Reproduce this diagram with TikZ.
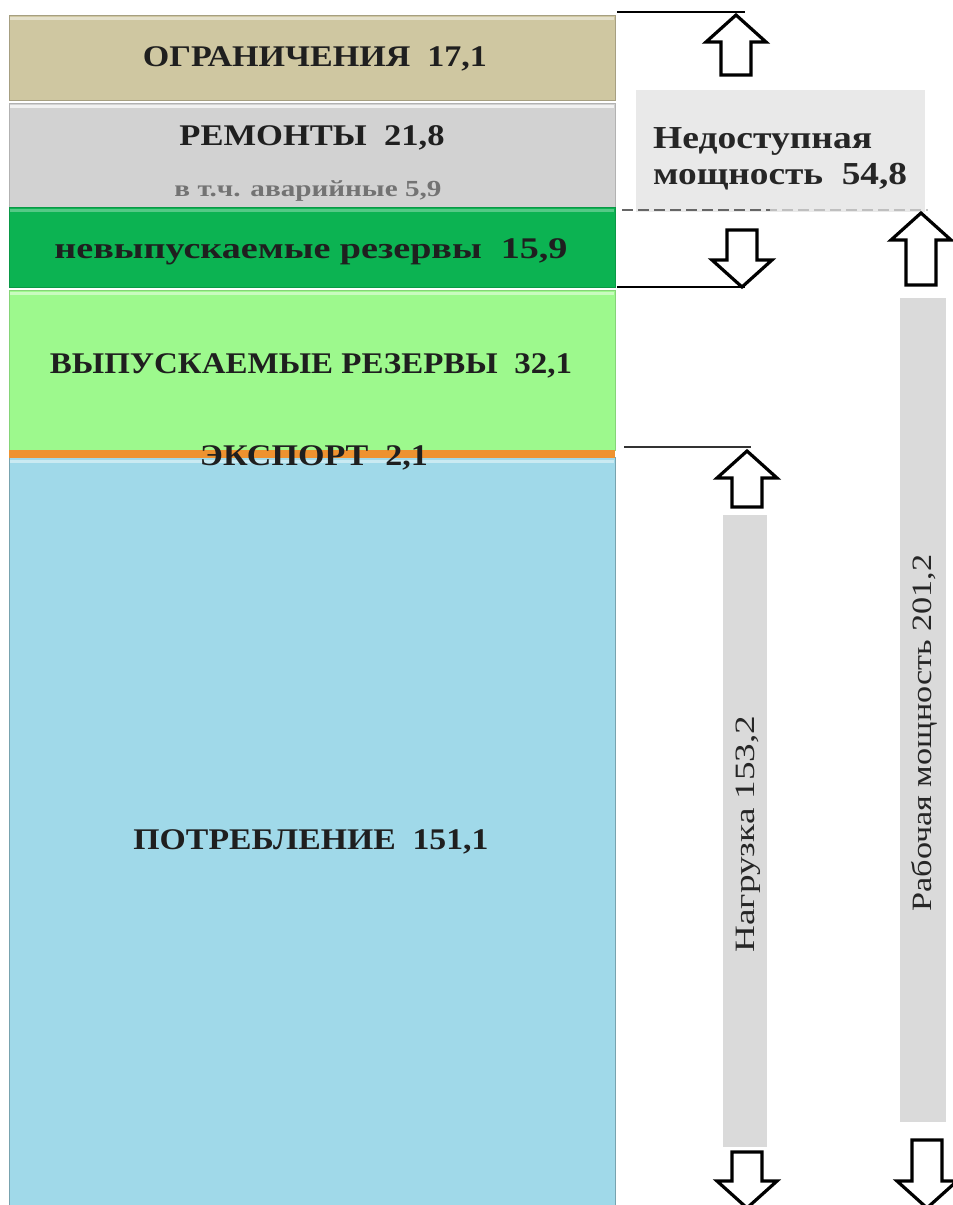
\documentclass[tikz,border=0pt]{standalone}
\usepackage{fontspec}
\setmainfont{Liberation Serif}
\usepackage{graphicx}
\definecolor{limtan}{HTML}{CFC7A1}
\definecolor{repgray}{HTML}{D2D2D2}
\definecolor{resgreen}{HTML}{0CB352}
\definecolor{relgreen}{HTML}{9DF98D}
\definecolor{exporange}{HTML}{EE9230}
\definecolor{consblue}{HTML}{A0D9E9}
\definecolor{panelgray}{HTML}{E9E9E9}
\definecolor{stripgray}{HTML}{DADADA}
\newcommand\fitw[2]{\resizebox{#1pt}{\height}{#2}}
% hollow block arrows: tip x, tip y, length
\newcommand\blkup[3]{\draw[blockarrow] (#1,#2) -- (#1+30,#2+27) -- (#1+15,#2+27) -- (#1+15,#2+#3) -- (#1-15,#2+#3) -- (#1-15,#2+27) -- (#1-30,#2+27) -- cycle;}
\newcommand\blkdown[3]{\draw[blockarrow] (#1,#2) -- (#1+30,#2-27) -- (#1+15,#2-27) -- (#1+15,#2-#3) -- (#1-15,#2-#3) -- (#1-15,#2-27) -- (#1-30,#2-27) -- cycle;}
\begin{document}
\begin{tikzpicture}[x=1pt,y=-1pt,
  seg/.style={anchor=north west, minimum width=606pt, inner sep=0pt, outer sep=0pt},
  barlabel/.style={font=\bfseries\fontsize{30}{32}\selectfont, text=black!88, inner sep=0pt},
  blockarrow/.style={draw=black, line width=3.2pt, fill=white, line join=miter},
  bracket/.style={draw=black, line width=2.6pt},
  strip/.style={fill=stripgray, draw=none, anchor=north west, inner sep=0pt},
  sidetext/.style={font=\fontsize{28}{30}\selectfont, text=black!85, inner sep=0pt, rotate=90}]
\useasboundingbox (0,0) rectangle (953,1205);
\fill[white] (0,0) rectangle (953,1205);

% stacked bar segments
\node[seg, fill=limtan, draw=limtan!80!black, minimum height=85pt] (lim) at (9,15) {};
\node[seg, fill=repgray, draw=repgray!85!black, minimum height=104pt] (rep) at (9,103) {};
\node[seg, fill=resgreen, draw=resgreen!85!black, minimum height=80pt] (nres) at (9,207) {};
\node[seg, fill=relgreen, draw=relgreen!85!black, minimum height=160pt] (rres) at (9,290) {};
\node[seg, fill=consblue, draw=consblue!75!black, minimum height=750pt] (cons) at (9,457) {};
\node[seg, fill=exporange, minimum height=8pt] (exp) at (9,450) {};
% light top edges of the segments
\draw[white, opacity=0.45, line width=3pt] (10,18) -- (614,18);
\draw[white, opacity=0.7, line width=3pt] (10,106) -- (614,106);
\draw[white, opacity=0.3, line width=3pt] (10,210) -- (614,210);
\draw[white, opacity=0.45, line width=3pt] (10,293) -- (614,293);
\draw[white, opacity=0.45, line width=3pt] (10,461) -- (614,461);

% segment labels
\node[barlabel] (limt) at (315,59) {\fitw{344}{ОГРАНИЧЕНИЯ\ \ 17,1}};
\node[barlabel] (rept) at (312,138) {\fitw{265}{РЕМОНТЫ\ \ 21,8}};
\node[font=\bfseries\fontsize{23}{25}\selectfont, text=black!55, inner sep=0pt] (avt) at (308,191) {\fitw{267}{в т.ч. аварийные 5,9}};
\node[barlabel] (nrest) at (311,252) {\fitw{513}{невыпускаемые резервы\ \ 15,9}};
\node[barlabel] (rrest) at (311,366) {\fitw{522}{ВЫПУСКАЕМЫЕ РЕЗЕРВЫ\ \ 32,1}};
\node[barlabel] (expt) at (314,458) {\fitw{228}{ЭКСПОРТ\ \ 2,1}};
\node[barlabel] (const) at (311,842) {\fitw{355}{ПОТРЕБЛЕНИЕ\ \ 151,1}};

% bracket lines at the bar edge
\coordinate (ta) at (617,12);  \coordinate (tb) at (745,12);
\coordinate (ba) at (617,287); \coordinate (bb) at (745,287);
\coordinate (ea) at (624,447); \coordinate (eb) at (751,447);
\draw[bracket] (ta) -- (tb);
\draw[bracket] (ba) -- (bb);
\draw[draw=black!80, line width=2pt] (ea) -- (eb);

% unavailable capacity panel
\node[fill=panelgray, anchor=north west, minimum width=289pt, minimum height=122pt, inner sep=0pt] (unav) at (636,90) {};
\node[font=\bfseries\fontsize{32}{34}\selectfont, text=black!85, anchor=base west, inner sep=0pt] (unav1) at (653,148) {\fitw{219}{Недоступная}};
\node[font=\bfseries\fontsize{32}{34}\selectfont, text=black!85, anchor=base west, inner sep=0pt] (unav2) at (653,184) {\fitw{254}{мощность\ \ 54,8}};
\coordinate (da) at (622,210); \coordinate (dm) at (770,210); \coordinate (db) at (928,210);
\draw[black!60, line width=2.2pt, dash pattern=on 11pt off 5pt] (da) -- (dm);
\draw[black!25, line width=2.2pt, dash pattern=on 11pt off 5pt, dash phase=4pt] (dm) -- (db);

% arrows
\blkup{736}{15}{60}
\blkdown{742}{287}{57}
\blkup{921}{213}{72}
\blkup{747}{451}{56}
\blkdown{747}{1208}{56}
\blkdown{927}{1208}{68}

% load and working capacity strips
\node[strip, minimum width=44pt, minimum height=632pt] (load) at (723,515) {};
\node[sidetext] (loadt) at (748,834) {\fitw{237}{Нагрузка 153,2}};
\node[strip, minimum width=46pt, minimum height=824pt] (work) at (900,298) {};
\node[sidetext] (workt) at (924,733) {\fitw{357}{Рабочая мощность 201,2}};
\end{tikzpicture}
\end{document}
